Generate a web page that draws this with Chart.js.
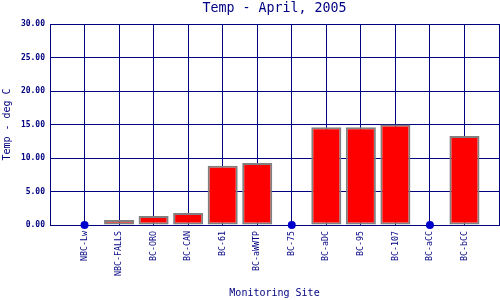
<!DOCTYPE html>
<html>
<head>
<meta charset="utf-8">
<script src="https://cdn.jsdelivr.net/npm/chart.js@4"></script>
<style>
    body { margin: 0; background: #fff; }
    #wrap { width: 500px; height: 300px; }
</style>
</head>
<body>
<div id="wrap"><canvas id="tempChart" width="500" height="300"></canvas></div>
<script>
// ================= DATA =================
const sites = ["NBC-Lw", "NBC-FALLS", "BC-ORO", "BC-CAN", "BC-61", "BC-aWWTP",
    "BC-75", "BC-aDC", "BC-95", "BC-107", "BC-aCC", "BC-bCC"];

// null = no reading for that site (drawn as a dot on the axis)
const temps = [null, 0.75, 1.35, 1.8, 8.85, 9.25, null, 14.6, 14.6, 15.0, null, 13.3];

const yTicks = [0, 5, 10, 15, 20, 25, 30];

// ================= STYLE =================
const NAVY = "#000080";
const MONO = "'DejaVu Sans Mono', 'Liberation Mono', monospace";

// empty slot at each end so sites sit one slot in from the frame
const axisLabels = [""].concat(sites, [""]);
const barData = [null].concat(temps, [null]);
const missingData = [null].concat(temps.map(v => (v === null ? 0 : null)), [null]);

const titlePlugin = {
    id: "plotTitle",
    afterDraw(chart) {
        const ctx = chart.ctx;
        const area = chart.chartArea;
        ctx.save();
        ctx.font = "13.3px " + MONO;
        ctx.fillStyle = NAVY;
        ctx.textAlign = "center";
        ctx.textBaseline = "middle";
        ctx.fillText("Temp - April, 2005", (area.left + area.right) / 2, 9);
        ctx.restore();
    }
};

new Chart(document.getElementById("tempChart"), {
    type: "bar",
    data: {
        labels: axisLabels,
        datasets: [
            {
                type: "line",
                data: missingData,
                showLine: false,
                borderWidth: 0,
                // radius 0 on empty points keeps the layout from reserving overflow room
                pointRadius: c => (c.raw === null || c.raw === undefined ? 0 : 4),
                pointBackgroundColor: "#0000cc",
                pointBorderColor: "#0000cc",
                pointBorderWidth: 0,
                clip: false,
                order: 0
            },
            {
                data: barData,
                backgroundColor: "#ff0000",
                borderColor: "#808080",
                borderWidth: 2,
                borderSkipped: false,
                barPercentage: 0.87,
                categoryPercentage: 1,
                order: 1
            }
        ]
    },
    options: {
        responsive: false,
        animation: false,
        layout: { padding: { top: 24, right: 1, left: 0, bottom: 0 } },
        plugins: {
            legend: { display: false },
            tooltip: { enabled: false }
        },
        scales: {
            x: {
                offset: false,
                grid: { color: NAVY, lineWidth: 1, drawTicks: false, offset: false },
                border: { color: NAVY, width: 1 },
                ticks: {
                    autoSkip: false,
                    maxRotation: 90,
                    minRotation: 90,
                    padding: 6,
                    color: NAVY,
                    font: { family: MONO, size: 8.3 }
                },
                title: {
                    display: true,
                    text: "Monitoring Site",
                    color: NAVY,
                    font: { family: MONO, size: 10 },
                    padding: { top: 0, bottom: 1 }
                },
                afterFit(scale) {
                    scale.height = 75;
                    scale.paddingLeft = 0;
                    scale.paddingRight = 0;
                }
            },
            y: {
                min: 0,
                max: 30,
                afterBuildTicks(scale) { scale.ticks = yTicks.map(v => ({ value: v })); },
                grid: { color: NAVY, lineWidth: 1, drawTicks: false },
                border: { color: NAVY, width: 1 },
                ticks: {
                    padding: 5,
                    color: NAVY,
                    font: { family: MONO, size: 8, weight: "bold" },
                    callback: v => Number(v).toFixed(2)
                },
                title: {
                    display: true,
                    text: "Temp - deg C",
                    color: NAVY,
                    font: { family: MONO, size: 10 },
                    padding: { top: 1, bottom: 0 }
                },
                afterFit(scale) { scale.width = 50; }
            }
        }
    },
    plugins: [titlePlugin]
});
</script>
</body>
</html>
